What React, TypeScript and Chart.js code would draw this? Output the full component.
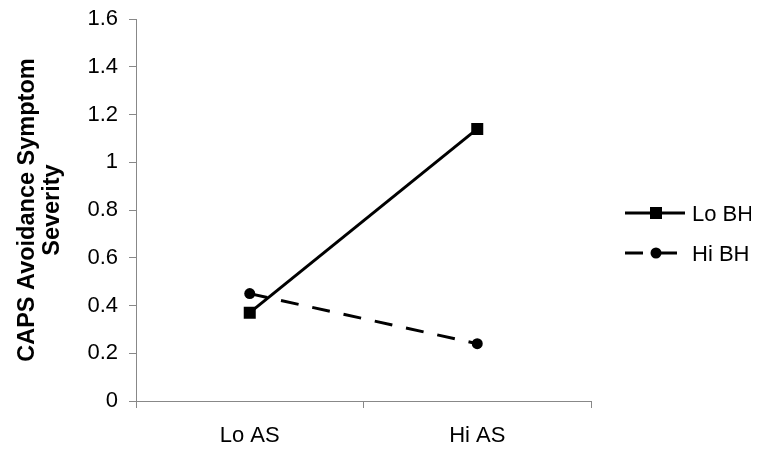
import React, { useEffect, useRef } from "react";
import { Chart, registerables } from "chart.js";

Chart.register(...registerables);

const categories = ["Lo AS", "Hi AS"];
const loBH = [0.37, 1.14];
const hiBH = [0.45, 0.24];
const seriesNames = ["Lo BH", "Hi BH"];
const yTitle = ["CAPS Avoidance Symptom", "Severity"];

const FONT = "'Liberation Sans', Arial, sans-serif";

const legendPlugin = {
  id: "customLegend",
  afterDraw(chart: any) {
    const ctx = chart.ctx;
    const items = [
      { name: seriesNames[0], y: 205, style: "rect" },
      { name: seriesNames[1], y: 245, style: "circle" },
    ];
    const x0 = 617;
    ctx.save();
    items.forEach((it) => {
      ctx.strokeStyle = "#000";
      ctx.fillStyle = "#000";
      ctx.lineWidth = 3;
      if (it.style === "rect") {
        ctx.beginPath();
        ctx.moveTo(x0, it.y);
        ctx.lineTo(x0 + 60, it.y);
        ctx.stroke();
        ctx.fillRect(x0 + 25, it.y - 6, 12, 12);
      } else {
        ctx.beginPath();
        ctx.moveTo(x0, it.y);
        ctx.lineTo(x0 + 18, it.y);
        ctx.moveTo(x0 + 35, it.y);
        ctx.lineTo(x0 + 52, it.y);
        ctx.stroke();
        ctx.beginPath();
        ctx.arc(x0 + 31, it.y, 5.5, 0, Math.PI * 2);
        ctx.fill();
      }
      ctx.font = "22px " + FONT;
      ctx.textBaseline = "middle";
      ctx.textAlign = "left";
      ctx.fillText(it.name, 684, it.y + 2);
    });
    ctx.restore();
  },
};

export default function App() {
  const ref = useRef<HTMLCanvasElement>(null);
  useEffect(() => {
    if (!ref.current) return;
    const chart = new Chart(ref.current, {
      type: "line",
      data: {
        labels: categories,
        datasets: [
          {
            label: seriesNames[0],
            data: loBH,
            borderColor: "#000",
            backgroundColor: "#000",
            borderWidth: 3,
            pointStyle: "rect",
            pointRadius: 8.5,
            pointHoverRadius: 8.5,
            pointBorderWidth: 0,
          },
          {
            label: seriesNames[1],
            data: hiBH,
            borderColor: "#000",
            backgroundColor: "#000",
            borderWidth: 3,
            borderDash: [18, 14],
            pointStyle: "circle",
            pointRadius: 5.5,
            pointHoverRadius: 5.5,
            pointBorderWidth: 0,
          },
        ],
      },
      options: {
        animation: false,
        responsive: false,
        layout: { padding: { top: 10, right: 160, bottom: 0, left: 0 } },
        plugins: { legend: { display: false }, tooltip: { enabled: false } },
        scales: {
          x: {
            offset: true,
            grid: {
              offset: true,
              drawOnChartArea: false,
              drawTicks: true,
              tickLength: 7,
              color: "#888",
            },
            border: { display: true, color: "#888", width: 1 },
            ticks: {
              color: "#000",
              font: { family: FONT, size: 22 },
              padding: 15,
            },
            afterFit: (s: any) => {
              s.height = 44;
            },
          },
          y: {
            min: 0,
            max: 1.6,
            grid: {
              drawOnChartArea: false,
              drawTicks: true,
              tickLength: 7,
              color: "#888",
            },
            border: { display: true, color: "#888", width: 1 },
            ticks: {
              stepSize: 0.2,
              color: "#000",
              font: { family: FONT, size: 22, lineHeight: 0.01 },
              padding: 11,
              callback: (v: any) => String(Math.round(Number(v) * 10) / 10),
            },
            title: {
              display: true,
              text: yTitle,
              color: "#000",
              font: { family: FONT, size: 23.5, weight: "bold", lineHeight: 1.07 },
              padding: { top: 7, bottom: 4 },
            },
            afterFit: (s: any) => {
              s.width = 128;
            },
          },
        },
      },
      plugins: [legendPlugin],
    });
    return () => chart.destroy();
  }, []);
  return <canvas ref={ref} width={743} height={437} style={{ display: "block" }} />;
}
